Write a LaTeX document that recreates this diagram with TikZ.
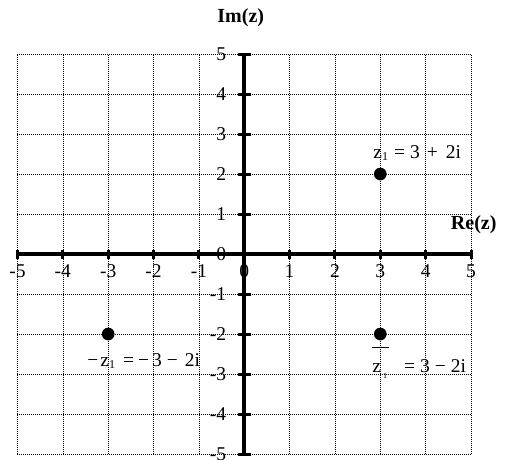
\documentclass[tikz,border=0pt]{standalone}
\usepackage{fontspec}
\setmainfont{Liberation Serif}
\newcommand{\subone}[2]{\raisebox{#2}{\fontsize{#1}{14}\selectfont 1}}
\tikzset{
  gridline/.style={line width=0.6pt, dash pattern=on 1pt off 1pt, black},
  axisline/.style={line width=3.5pt, black},
  tickbar/.style={line width=3pt, black},
  lbl/.style={inner sep=0pt, font=\fontsize{19.5}{23}\selectfont},
  dot/.style={circle, fill=black, inner sep=0pt, minimum size=12.7pt},
}
\begin{document}
\begin{tikzpicture}[x=45.35pt,y=40pt]
\useasboundingbox (-244.25pt,-205pt) rectangle (261.75pt,254pt);
\draw[gridline, xstep=45.35pt, ystep=40pt] (-5,-5) grid (5,5);
\coordinate (xl) at (-5,0);
\coordinate (xr) at (5,0);
\coordinate (yb) at (0,-5);
\coordinate (yt) at (0,5);
\draw[axisline] (xl) -- (xr);
\draw[axisline] (yb) -- (yt);
\foreach \i in {-5,...,5} {
  \coordinate (tx\i) at (\i,0);
  \coordinate (ty\i) at (0,\i);
  \draw[tickbar] ([yshift=-4.5pt]tx\i) -- ([yshift=4.5pt]tx\i);
  \draw[tickbar] ([xshift=-6.5pt]ty\i) -- ([xshift=6.5pt]ty\i);
  \node[lbl, anchor=base] (lx\i) at ([yshift=-23pt]tx\i) {\i};
  \node[lbl, anchor=base east] (ly\i) at ([xshift=-18pt,yshift=-6.5pt]ty\i) {\i};
}
\node[lbl, anchor=base, font=\fontsize{20}{24}\selectfont\bfseries] (im) at (-3.5pt,232pt) {Im(z)};
\node[lbl, anchor=base, font=\fontsize{20}{24}\selectfont\bfseries] (re) at (229.5pt,25pt) {Re(z)};
\node[dot] (z1) at (3,2) {};
\node[dot] (mz1) at (-3,-2) {};
\node[dot] (cz1) at (3,-2) {};
\node[lbl, anchor=base west] (lz1) at (129pt,96pt)
  {z\subone{12}{-2pt}\hspace{6pt}=\hspace{5pt}3\hspace{7pt}+\hspace{8pt}2i};
\node[lbl, anchor=base west] (lmz1) at (-157pt,-112pt)
  {−\hspace{2pt}z\subone{12}{-2pt}\hspace{8pt}=\hspace{4pt}−\hspace{3pt}3\hspace{5pt}−\hspace{7pt}2i};
\node[lbl, anchor=base west] (lcz1) at (128pt,-118pt)
  {\makebox[0pt][l]{\raisebox{24pt}{\rule{17pt}{0.9pt}}}z\hspace{2pt}\subone{8}{-6pt}\hspace{17pt}=\hspace{5pt}3\hspace{5pt}−\hspace{5pt}2i};
\end{tikzpicture}
\end{document}
